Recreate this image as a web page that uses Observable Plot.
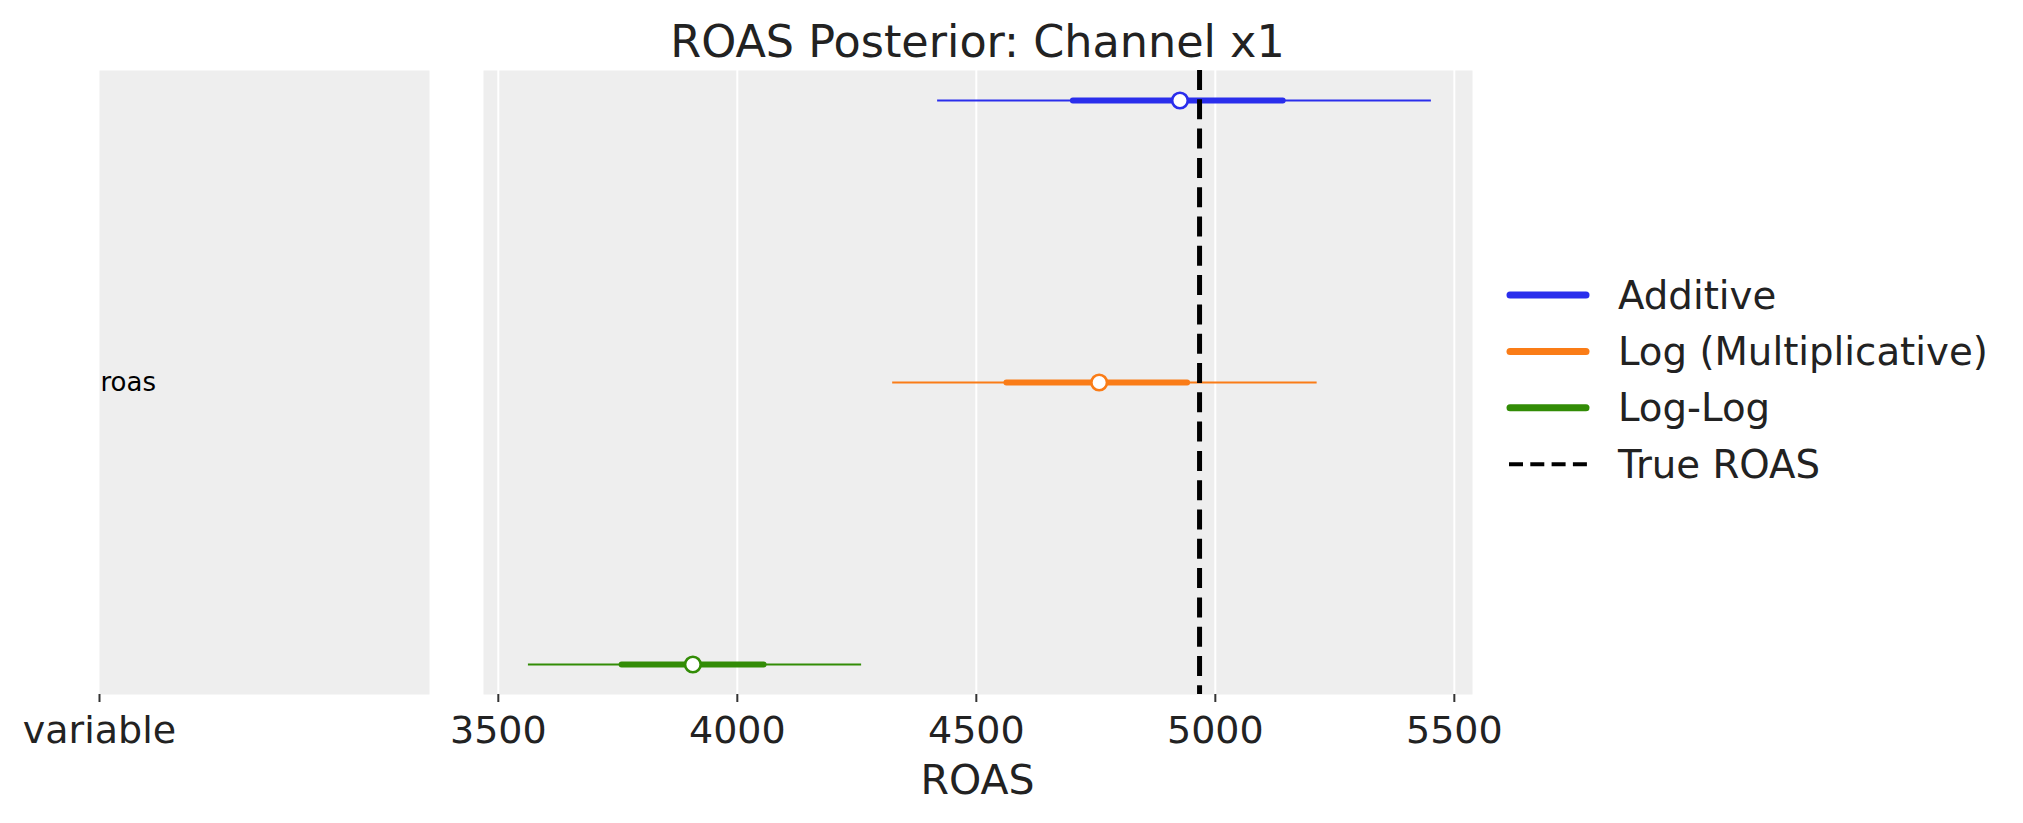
<!DOCTYPE html>
<html>
<head>
<meta charset="utf-8">
<script src="https://cdn.jsdelivr.net/npm/d3@7"></script>
<script src="https://cdn.jsdelivr.net/npm/@observablehq/plot@0.6"></script>
<style>
  html, body { margin: 0; padding: 0; background: #fff; }
  #wrap { position: relative; width: 2023px; height: 823px; overflow: hidden; font-family: "DejaVu Sans", sans-serif; }
  #wrap > svg, #wrap > div { position: absolute; top: 0; }
</style>
</head>
<body>
<div id="wrap"></div>
<script>
// ---- data ----
const models = ["Additive", "Log (Multiplicative)", "Log-Log"];
const colors = ["#2a2eec", "#fa7c17", "#328c06"];
const hdiLow = [4419, 4325, 3563];     // thin interval (94%)
const hdiHigh = [5452, 5213, 4260];
const iqrLow = [4703, 4564, 3759];     // thick interval
const iqrHigh = [5142, 4942, 4056];
const centers = [4926, 4757, 3907];    // point estimate
const trueRoas = [4967];
const xTicks = [3500, 4000, 4500, 5000, 5500];
const leftTickLabels = ["variable"];
const variableNames = ["roas"];
const titleText = "ROAS Posterior: Channel x1";
const xLabelText = "ROAS";
const trueLabel = "True ROAS";

const rows = models.map((m, i) => ({
  model: m, lo: hdiLow[i], hi: hdiHigh[i], q1: iqrLow[i], q3: iqrHigh[i], c: centers[i]
}));

const wrap = document.getElementById("wrap");
const textColor = "#222222";
const font = "DejaVu Sans";

// ---- left (variable) panel ----
const left = Plot.plot({
  width: 449, height: 823,
  marginLeft: 99, marginRight: 20, marginTop: 70, marginBottom: 129,
  style: { fontFamily: font, color: textColor, background: "transparent", overflow: "visible" },
  x: { domain: [0, 1], axis: null },
  y: { axis: null },
  marks: [
    Plot.frame({ fill: "#eeeeee", stroke: null }),
    Plot.axisX([0], { tickSize: 8, tickPadding: 14, fontSize: 38, strokeWidth: 2, stroke: "#333",
      tickFormat: () => leftTickLabels[0], label: null }),
    Plot.text(variableNames, { frameAnchor: "left", text: d => d, fontSize: 26, fill: "black", textAnchor: "start", dx: 1 })
  ]
});
left.style.left = "0px";
wrap.appendChild(left);

// ---- right (forest) panel ----
const right = Plot.plot({
  width: 1029, height: 823,
  marginLeft: 20, marginRight: 20, marginTop: 70, marginBottom: 129,
  style: { fontFamily: font, color: textColor, background: "transparent", overflow: "visible" },
  x: { domain: [3469, 5538], axis: null },
  y: { type: "point", domain: models, padding: 0.106, axis: null },
  color: { domain: models, range: colors },
  marks: [
    Plot.frame({ fill: "#eeeeee", stroke: null }),
    Plot.gridX(xTicks, { stroke: "white", strokeOpacity: 1, strokeWidth: 2 }),
    Plot.axisX(xTicks, { tickSize: 8, tickPadding: 14, fontSize: 38, strokeWidth: 2, stroke: "#333",
      tickFormat: d => String(d), label: null }),
    Plot.ruleY(rows, { y: "model", x1: "lo", x2: "hi", stroke: "model", strokeWidth: 1.8 }),
    Plot.ruleY(rows, { y: "model", x1: "q1", x2: "q3", stroke: "model", strokeWidth: 6, strokeLinecap: "round" }),
    Plot.dot(rows, { y: "model", x: "c", stroke: "model", fill: "white", r: 7.8, strokeWidth: 2.6 }),
    Plot.ruleX(trueRoas, { stroke: "black", strokeWidth: 5, strokeDasharray: "20,9.3" })
  ]
});
right.style.left = "463px";
wrap.appendChild(right);

// ---- title, axis label, legend ----
const ov = d3.select(wrap).append("svg")
  .attr("width", 2023).attr("height", 823)
  .style("left", "0px").style("pointer-events", "none")
  .attr("font-family", font);

ov.append("text").attr("x", 977.5).attr("y", 57).attr("text-anchor", "middle")
  .attr("font-size", 44.5).attr("fill", textColor).text(titleText);
ov.append("text").attr("x", 977.5).attr("y", 794).attr("text-anchor", "middle")
  .attr("font-size", 41).attr("fill", textColor).text(xLabelText);

const legendItems = models.map((m, i) => ({ label: m, color: colors[i], dashed: false }))
  .concat([{ label: trueLabel, color: "black", dashed: true }]);
const ly0 = 295, lstep = 56.4;
const lg = ov.selectAll("g.leg").data(legendItems).join("g")
  .attr("transform", (d, i) => `translate(0,${ly0 + i * lstep})`);
lg.append("line")
  .attr("x1", d => d.dashed ? 1509 : 1510).attr("x2", d => d.dashed ? 1587 : 1586)
  .attr("y1", 0).attr("y2", 0)
  .attr("stroke", d => d.color)
  .attr("stroke-width", d => d.dashed ? 4 : 7)
  .attr("stroke-linecap", d => d.dashed ? "butt" : "round")
  .attr("stroke-dasharray", d => d.dashed ? "14,7.3" : null);
lg.append("text").attr("x", 1618).attr("y", 0).attr("dy", "0.35em")
  .attr("font-size", 38.7).attr("fill", textColor).text(d => d.label);
</script>
</body>
</html>
